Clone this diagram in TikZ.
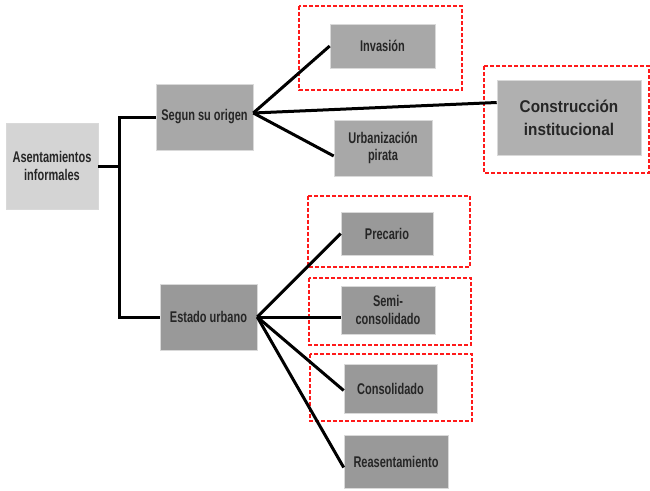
\documentclass[tikz,border=0pt]{standalone}
\usepackage{fontspec}
\setmainfont{Liberation Sans}
\newfontfamily\narrowfont[FakeStretch=0.71]{Liberation Sans}
\newfontfamily\semifont[FakeStretch=0.9]{Liberation Sans}
\usetikzlibrary{calc}
\definecolor{boxlight}{HTML}{D4D4D4}
\definecolor{boxmid}{HTML}{A8A8A8}
\definecolor{boxdark}{HTML}{999999}
\definecolor{boxcons}{HTML}{B0B0B0}
\definecolor{dashred}{HTML}{FF1A1A}
\tikzset{
  box/.style={draw=white!85!black, line width=0.6pt, inner sep=1pt, align=center,
    font=\narrowfont\bfseries\fontsize{15.5}{17.5}\selectfont, text=black!85},
  conn/.style={line width=3pt, black},
  redbox/.style={draw=dashred, line width=1.3pt, dash pattern=on 4pt off 2pt}
}
\begin{document}
\begin{tikzpicture}[x=1pt,y=-1pt]
\useasboundingbox (0,0) rectangle (650,490);
% red dashed frames
\draw[redbox] (299,6) rectangle (462,90);
\draw[redbox] (484,66) rectangle (649,173);
\draw[redbox] (308,196) rectangle (470,267);
\draw[redbox] (309,278) rectangle (471,345);
\draw[redbox] (310,354) rectangle (472,421);
% nodes
\node[box, fill=boxlight, minimum width=92pt, minimum height=86pt] (asent) at (52,166) {Asentamientos\\informales};
\node[box, fill=boxmid, minimum width=97pt, minimum height=66pt] (segun) at (204.5,117) {Segun su origen};
\node[box, fill=boxdark, minimum width=97pt, minimum height=66pt] (estado) at (208.5,317) {Estado urbano};
\node[box, fill=boxmid, minimum width=105pt, minimum height=44pt] (inv) at (382.5,46) {Invasi\'on};
\node[box, fill=boxmid, minimum width=98pt, minimum height=56pt] (urb) at (383,148) {Urbanizaci\'on\\pirata};
\node[box, fill=boxcons, minimum width=144pt, minimum height=75pt,
  font=\semifont\bfseries\fontsize{17}{23}\selectfont] (cons) at (569,117.5) {Construcci\'on\\institucional};
\node[box, fill=boxdark, minimum width=92pt, minimum height=43pt] (prec) at (387,233.5) {Precario};
\node[box, fill=boxdark, minimum width=94pt, minimum height=48pt] (semi) at (388,310) {Semi-\\consolidado};
\node[box, fill=boxdark, minimum width=93pt, minimum height=49pt] (consol) at (390.5,388.5) {Consolidado};
\node[box, fill=boxdark, minimum width=104pt, minimum height=53pt] (reas) at (396,461.5) {Reasentamiento};
% connectors
\coordinate (bus) at (119,0);
\draw[conn] (asent.east) -- (asent.east -| bus);
\draw[conn] (segun.west) -- (segun.west -| bus) -- (estado.west -| bus) -- (estado.west);
\draw[conn] ([yshift=4pt]segun.east) -- (inv.west);
\draw[conn] ([yshift=4pt]segun.east) -- ([yshift=15pt]cons.west);
\draw[conn] ([yshift=4pt]segun.east) -- ([yshift=-8pt]urb.west);
\draw[conn] (estado.east) -- (prec.west);
\draw[conn] (estado.east) -- ([yshift=-7pt]semi.west);
\draw[conn] (estado.east) -- ([yshift=-2pt]consol.west);
\draw[conn] (estado.east) -- ([yshift=-6pt]reas.west);
\end{tikzpicture}
\end{document}
